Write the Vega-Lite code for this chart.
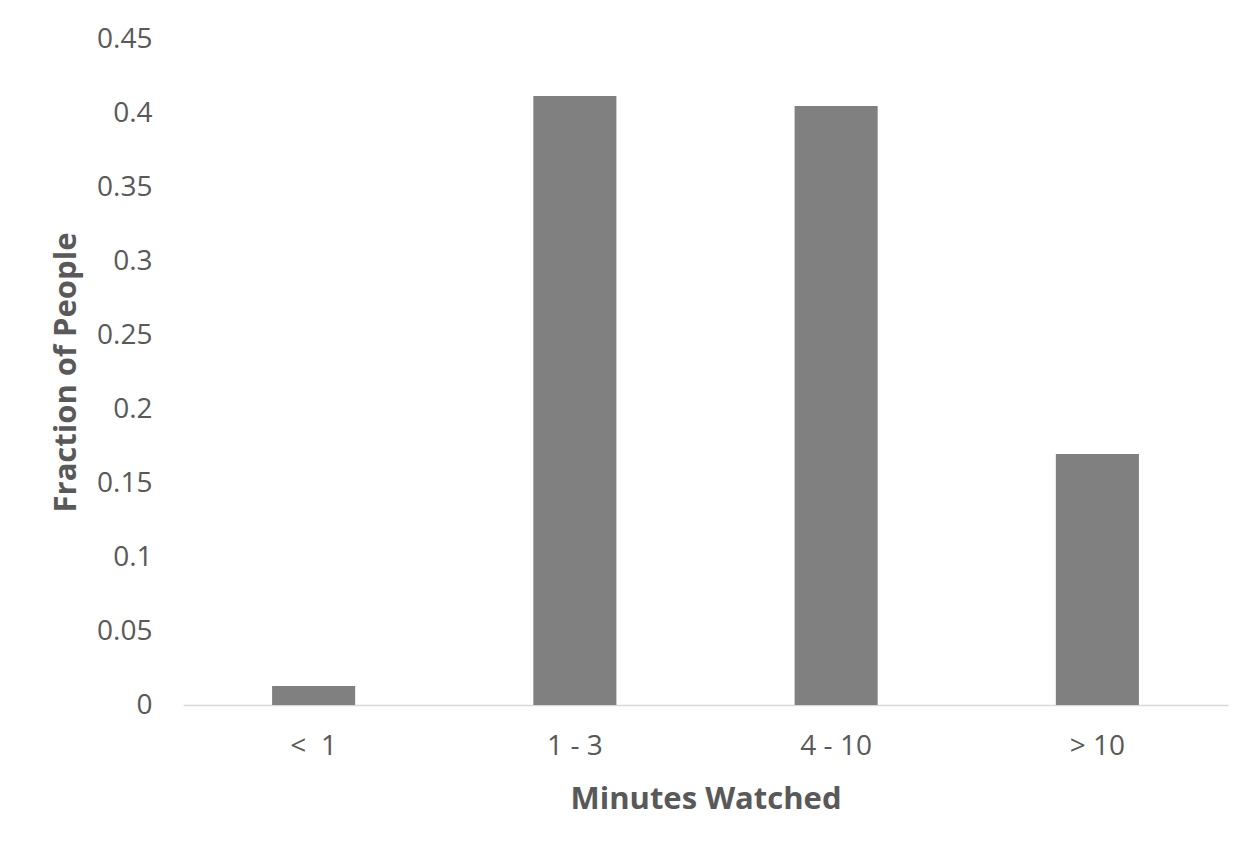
{
  "$schema": "https://vega.github.io/schema/vega-lite/v6.json",
  "autosize": "none",
  "width": 1045,
  "height": 666,
  "padding": {"left": 183, "top": 39, "right": 26, "bottom": 142},
  "background": "white",
  "config": {
    "view": {"stroke": null},
    "font": "Open Sans",
    "axis": {"labelColor": "#595959", "titleColor": "#595959", "labelFont": "Open Sans", "titleFont": "Open Sans"}
  },
  "data": {
    "values": [
      {"minutes": "<\u00a0 1", "fraction": 0.0128},
      {"minutes": "1 - 3", "fraction": 0.4115},
      {"minutes": "4 - 10", "fraction": 0.4047},
      {"minutes": "> 10", "fraction": 0.1696}
    ]
  },
  "mark": {"type": "bar", "color": "#808080"},
  "encoding": {
    "x": {
      "field": "minutes",
      "type": "nominal",
      "sort": null,
      "scale": {"paddingInner": 0.682, "paddingOuter": 0.341},
      "axis": {
        "title": "Minutes Watched",
        "labelAngle": 0,
        "labelFontSize": 28,
        "labelPadding": 27,
        "titleFontSize": 31,
        "titleFontWeight": "bold",
        "titlePadding": 24,
        "ticks": false,
        "domainColor": "#d9d9d9",
        "domainWidth": 1.5
      }
    },
    "y": {
      "field": "fraction",
      "type": "quantitative",
      "scale": {"domain": [0, 0.45]},
      "axis": {
        "title": "Fraction of People",
        "values": [0, 0.05, 0.1, 0.15, 0.2, 0.25, 0.3, 0.35, 0.4, 0.45],
        "format": "~g",
        "labelFontSize": 28,
        "labelPadding": 31,
        "titleFontSize": 31,
        "titleFontWeight": "bold",
        "titlePadding": 14,
        "ticks": false,
        "domain": false,
        "grid": false
      }
    }
  }
}
